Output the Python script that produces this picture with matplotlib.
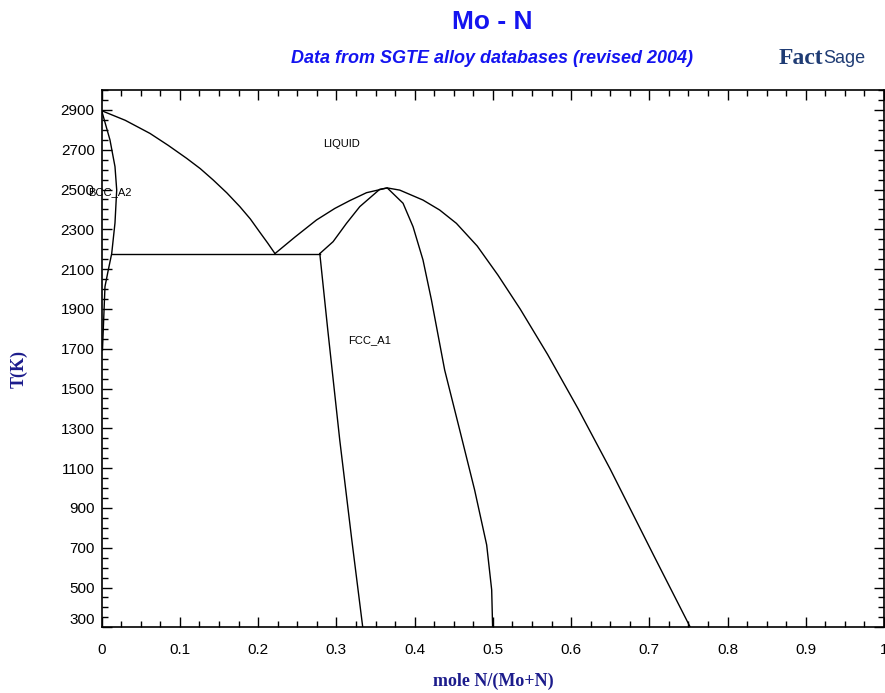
import matplotlib.pyplot as plt

# Mo - N phase diagram (FactSage, SGTE alloy databases)

# liquidus, Mo side down to the eutectic
liq_mo_x = [0.0, 0.03, 0.0617, 0.085, 0.1085, 0.126, 0.1425, 0.16, 0.1766,
            0.19, 0.2022, 0.212, 0.2215]
liq_mo_t = [2896, 2848, 2782, 2722, 2657, 2605, 2548, 2483, 2414,
            2352, 2285, 2232, 2178]

# BCC_A2 solidus + solvus
bcc_x = [0.0, 0.0106, 0.0170, 0.0192, 0.0170, 0.0128, 0.0084, 0.0042, 0.0010]
bcc_t = [2896, 2749, 2615, 2498, 2332, 2178, 2095, 2012, 1693]

# eutectic / peritectic line
eut_x = [0.0128, 0.2788]
eut_t = [2178, 2178]

# liquidus around the congruent maximum of FCC_A1
liq_fcc_x = [0.2215, 0.247, 0.2746, 0.298, 0.317, 0.3385, 0.365, 0.381,
             0.4107, 0.432, 0.4534, 0.48, 0.5065, 0.535, 0.57, 0.609,
             0.65, 0.706, 0.7524]
liq_fcc_t = [2178, 2261, 2347, 2405, 2444, 2484, 2508, 2497,
             2447, 2397, 2330, 2216, 2070, 1899, 1671, 1398,
             1095, 658, 300]

# FCC_A1 solidus (left branch from peritectic, right branch down to x=0.5)
fcc_sol_x = [0.2788, 0.2958, 0.3129, 0.3299, 0.3554, 0.3650, 0.3852, 0.3980,
             0.4107, 0.4215, 0.4384, 0.4576, 0.4767, 0.4921, 0.4985, 0.4997]
fcc_sol_t = [2178, 2238, 2330, 2414, 2501, 2508, 2431, 2313,
             2146, 1945, 1593, 1292, 990, 714, 488, 300]

# FCC_A1 boundary on the Mo side
fcc_left_x = [0.2788, 0.2890, 0.3043, 0.3197, 0.3337]
fcc_left_t = [2178, 1794, 1241, 739, 300]

x_ticks = [0, 0.1, 0.2, 0.3, 0.4, 0.5, 0.6, 0.7, 0.8, 0.9, 1]
x_tick_labels = ['0', '0.1', '0.2', '0.3', '0.4', '0.5', '0.6', '0.7', '0.8', '0.9', '1']
y_ticks = list(range(300, 3000, 200))

plt.rcParams['font.family'] = ['Liberation Sans', 'DejaVu Sans']

fig = plt.figure(figsize=(8.85, 6.93), dpi=100)
ax = fig.add_axes([0.1149, 0.0948, 0.884, 0.7753])

for xs, ts in [(liq_mo_x, liq_mo_t), (bcc_x, bcc_t), (eut_x, eut_t),
               (liq_fcc_x, liq_fcc_t), (fcc_sol_x, fcc_sol_t), (fcc_left_x, fcc_left_t)]:
    ax.plot(xs, ts, color='black', linewidth=1.0)

ax.text(0.306, 2731, 'LIQUID', fontsize=8, ha='center', va='center')
ax.text(0.011, 2486, 'BCC_A2', fontsize=8, ha='center', va='center')
ax.text(0.343, 1745, 'FCC_A1', fontsize=8, ha='center', va='center')

ax.set_xlim(0, 1)
ax.set_ylim(300, 3000)
ax.set_xticks(x_ticks)
ax.set_xticklabels(x_tick_labels)
ax.set_yticks(y_ticks)
ax.set_xticks([i * 0.025 for i in range(41)], minor=True)
ax.set_yticks(list(range(300, 3001, 50)), minor=True)
ax.tick_params(which='both', direction='in', top=True, right=True, labelsize=11)
ax.tick_params(axis='x', pad=11)
ax.tick_params(axis='y', pad=5)
ax.tick_params(which='major', length=7, width=1)
ax.tick_params(which='minor', length=4, width=1)
for s in ax.spines.values():
    s.set_linewidth(1.2)
ax.get_yticklabels()[0].set_va('bottom')

ax.set_xlabel('mole N/(Mo+N)', fontsize=13, fontweight='bold', color='#1c1c8c',
              family='Liberation Serif')
ax.set_ylabel('T(K)', fontsize=13, fontweight='bold', color='#1c1c8c',
              family='Liberation Serif')
ax.xaxis.set_label_coords(0.5, -0.085)
ax.yaxis.set_label_coords(-0.095, 0.48)

fig.text(0.556, 0.968, 'Mo - N', fontsize=19, fontweight='bold', color='#1414f0',
         ha='center', va='center', family=['Liberation Sans Narrow', 'Liberation Sans'])
fig.text(0.556, 0.916, 'Data from SGTE alloy databases (revised 2004)', fontsize=13,
         fontweight='bold', style='italic', color='#1414f0', ha='center', va='center')
fig.text(0.93, 0.915, 'Fact', fontsize=17, fontweight='bold', color='#1f3c74',
         ha='right', va='center', family='Liberation Serif')
fig.text(0.93, 0.915, 'Sage', fontsize=13, color='#1f3c74', ha='left', va='center')

fig.savefig('out.png', dpi=100)
